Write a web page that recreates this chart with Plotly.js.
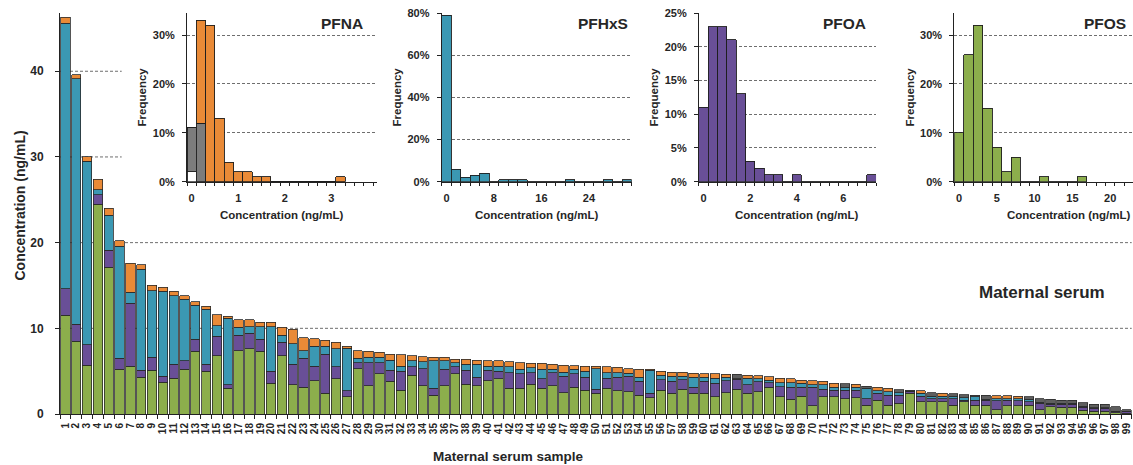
<!DOCTYPE html>
<html><head><meta charset="utf-8">
<script src="https://cdn.plot.ly/plotly-3.0.1.min.js"></script>
<style>html,body{margin:0;padding:0;overflow:hidden;background:#fff}#chart{width:1180px;height:465px}</style>
</head><body><div id="chart"></div>
<script>
// ---------- Main chart data (ng/mL) ----------
const samples = [1,2,3,4,5,6,7,8,9,10,11,12,13,14,15,16,17,18,19,20,21,22,23,24,25,26,27,28,29,30,31,32,33,34,35,36,37,38,39,40,41,42,43,44,45,46,47,48,49,50,51,52,53,54,55,56,57,58,59,60,61,62,63,64,65,66,67,68,69,70,71,72,73,74,75,76,77,78,79,80,81,82,83,84,85,86,87,88,89,90,91,92,93,94,95,96,97,98,99];
const pfos  = [11.5,8.5,5.7,24.5,17.1,5.2,5.6,4.3,5.1,3.7,4.2,5.2,7.3,5.0,6.8,3.0,7.4,7.6,7.3,3.6,6.8,3.4,3.1,3.9,2.4,4.1,2.0,5.3,3.3,4.7,3.8,2.8,4.5,3.3,2.2,3.3,4.7,3.5,3.3,3.9,4.1,3.0,3.0,3.5,3.0,3.3,2.5,3.1,2.8,2.4,3.0,2.7,2.6,2.2,1.9,2.8,2.4,2.9,2.4,2.4,2.0,2.5,2.9,2.4,2.6,3.1,2.0,1.7,2.1,0.95,2.0,2.0,1.8,1.9,1.05,1.6,1.05,1.25,2.4,1.45,1.45,1.45,1.05,1.45,1.05,1.05,0.5,0.95,0.95,1.05,0.5,0.85,0.8,0.8,0.45,0.3,0.3,0.15,0.1];
const pfoa  = [3.1,2.0,2.4,1.1,2.0,1.3,7.3,0.8,1.5,0.7,1.6,1.0,1.4,0.8,2.3,0.4,1.8,1.8,1.4,1.4,1.6,2.4,3.4,1.7,4.6,1.4,0.7,0.7,2.7,1.3,1.3,2.2,1.0,2.0,0.8,1.9,0.8,1.6,1.0,1.2,0.9,1.8,1.7,1.3,1.1,1.5,1.9,1.6,1.5,0.5,1.2,1.6,1.8,1.6,0.5,1.2,1.4,1.1,0.7,1.4,1.6,1.4,1.15,1.0,1.15,0.55,1.2,1.4,1.0,2.15,0.9,0.8,1.0,0.9,0.75,0.8,1.15,0.95,0.2,0.65,0.35,0.35,0.75,0.15,0.55,0.55,1.05,0.65,0.6,0.4,0.75,0.3,0.35,0.35,0.35,0.35,0.35,0.15,0.15];
const pfhxs = [31.0,28.6,21.4,0.6,4.1,13.1,1.3,11.8,7.8,9.9,8.0,7.2,4.0,6.4,1.2,7.8,0.9,0.8,1.5,5.2,0.8,2.4,0.9,2.3,0.9,2.1,5.0,0.5,0.6,0.6,1.2,0.6,0.7,0.8,3.2,1.0,0.5,0.7,1.5,0.5,0.6,0.7,0.5,0.6,1.1,0.4,0.5,0.5,0.7,2.4,0.6,0.5,0.35,0.5,2.7,0.5,0.6,0.4,1.2,0.5,0.6,0.4,0.05,0.75,0.35,0.3,0.45,0.55,0.5,0.3,0.5,0.3,0.3,0.35,1.2,0.3,0.4,0.3,0.05,0.3,0.3,0.3,0.3,0.3,0.4,0.15,0.25,0.2,0.25,0.25,0.1,0.1,0.1,0.1,0.1,0.1,0.1,0.05,0.05];
const pfna  = [0.7,0.5,0.5,1.2,0.8,0.6,3.4,0.5,0.6,0.5,0.5,0.4,0.4,0.4,1.3,0.2,0.9,0.8,0.5,0.5,0.9,1.7,1.5,0.9,0.7,0.8,0.2,0.9,0.7,0.6,0.7,1.3,0.6,0.6,0.4,0.4,0.4,0.6,0.5,0.6,0.6,0.6,0.8,0.5,0.7,0.6,0.8,0.45,0.6,0.25,0.7,0.65,0.55,0.95,0.1,0.5,0.5,0.45,0.45,0.4,0.5,0.35,0.55,0.4,0.35,0.4,0.5,0.45,0.35,0.5,0.45,0.5,0.45,0.35,0.25,0.4,0.4,0.35,0.15,0.3,0.4,0.35,0.25,0.35,0.2,0.45,0.35,0.35,0.3,0.3,0.45,0.45,0.35,0.35,0.4,0.4,0.4,0.5,0.2];
// samples whose PFNA value is below the limit of quantification (drawn grey)
const pfnaBelowLoq = [63,73,75,78,79,81,83,84,85,86,90,91,92,93,94,95,96,97,98,99];

// ---------- Inset histograms (frequency, %) ----------
const pfnaBins   = [0,0.2,0.4,0.6,0.8,1.0,1.2,1.4,1.6,1.8,2.0,2.2,2.4,2.6,2.8,3.0,3.2];
const pfnaNd     = [2,0,0,0,0,0,0,0,0,0,0,0,0,0,0,0,0];
const pfnaLoq    = [9,12,0,0,0,0,0,0,0,0,0,0,0,0,0,0,0];
const pfnaFreq   = [0,21,32,13,4,2,2,1,1,0,0,0,0,0,0,0,1];
const pfhxsBins  = [0,1.6,3.2,4.8,6.4,8.0,9.6,11.2,12.8,14.4,16.0,17.6,19.2,20.8,22.4,24.0,25.6,27.2,28.8,30.4];
const pfhxsFreq  = [79,6,2,3,4,0,1,1,1,0,0,0,0,1,0,0,0,1,0,1];
const pfoaBins   = [0,0.4,0.8,1.2,1.6,2.0,2.4,2.8,3.2,3.6,4.0,4.4,4.8,5.2,5.6,6.0,6.4,6.8,7.2];
const pfoaFreq   = [11,23,23,21,13,3,2,1,1,0,1,0,0,0,0,0,0,0,1];
const pfosBins   = [0,1.25,2.5,3.75,5,6.25,7.5,8.75,10,11.25,12.5,13.75,15,16.25];
const pfosFreq   = [10,26,32,15,7,2,5,0,0,1,0,0,0,1];

const C = {pfos:'#8CAE4C', pfoa:'#694F97', pfhxs:'#3B98B3', pfna:'#E98A37', grey:'#7c7c7c', dgrey:'#5f5f5f'};
const FONT = 'Liberation Sans, Arial, Helvetica, sans-serif';
const TXT = '#262626';
const outline = {color:'#2a2a2a', width:0.8};
const hOutline = {color:'#1e1e1e', width:0.9};

const traces = [
  {type:'bar', x:samples, y:pfos, name:'PFOS', marker:{color:C.pfos, line:outline}, width:0.86},
  {type:'bar', x:samples, y:pfoa, name:'PFOA', marker:{color:C.pfoa, line:outline}, width:0.86},
  {type:'bar', x:samples, y:pfhxs, name:'PFHxS', marker:{color:C.pfhxs, line:outline}, width:0.86},
  {type:'bar', x:samples, y:pfna, name:'PFNA', marker:{color:samples.map(s=>pfnaBelowLoq.includes(s)?C.dgrey:C.pfna), line:outline}, width:0.86},
  {type:'bar', x:pfnaBins, y:pfnaNd, xaxis:'x2', yaxis:'y2', width:0.2, marker:{color:'#ffffff', line:hOutline}},
  {type:'bar', x:pfnaBins, y:pfnaLoq, xaxis:'x2', yaxis:'y2', width:0.2, marker:{color:C.grey, line:hOutline}},
  {type:'bar', x:pfnaBins, y:pfnaFreq, xaxis:'x2', yaxis:'y2', width:0.2, marker:{color:C.pfna, line:hOutline}},
  {type:'bar', x:pfhxsBins, y:pfhxsFreq, xaxis:'x3', yaxis:'y3', width:1.6, marker:{color:C.pfhxs, line:hOutline}},
  {type:'bar', x:pfoaBins, y:pfoaFreq, xaxis:'x4', yaxis:'y4', width:0.4, marker:{color:C.pfoa, line:hOutline}},
  {type:'bar', x:pfosBins, y:pfosFreq, xaxis:'x5', yaxis:'y5', width:1.25, marker:{color:C.pfos, line:hOutline}}
];

const tickF = {family:FONT, size:11, color:TXT, weight:'bold'};
const titleF = {family:FONT, size:11.5, color:TXT, weight:'bold'};

function insetX(anchor, domain, range, vals, binW){
  return {domain:domain, anchor:anchor, range:range, tickmode:'array', tickvals:vals, ticktext:vals.map(String), ticks:'', ticklabelstandoff:6,
    showline:true, linecolor:'#222', linewidth:1, zeroline:false, showgrid:false, tickfont:tickF,
    minor:{tick0:range[0], dtick:binW, ticks:'outside', ticklen:3, tickcolor:'#222', tickwidth:1, showgrid:false}};
}
function insetY(anchor, range, vals){
  return {domain:[0.5793,1], anchor:anchor, range:range, tickmode:'array', tickvals:vals, ticktext:vals.map(v=>v+'%'),
    ticks:'outside', ticklen:4, tickcolor:'#222', ticklabelstandoff:5, showline:true, linecolor:'#222', linewidth:1, zeroline:false,
    showgrid:true, gridcolor:'#6e6e6e', griddash:'3px,2px', gridwidth:1, tickfont:tickF,
    title:{text:'Frequency', font:titleF, standoff:3}};
}

const grid = {color:'#6e6e6e', width:1, dash:'3px,2px'};
function ann(text, x, y, size, extra){
  return Object.assign({text:text, xref:'paper', yref:'paper', x:x, y:y, xanchor:'center', yanchor:'middle', showarrow:false,
    font:{family:FONT, size:size, color:TXT, weight:'bold'}}, extra||{});
}
const layout = {
  width:1180, height:465, barmode:'stack', showlegend:false,
  paper_bgcolor:'#ffffff', plot_bgcolor:'rgba(0,0,0,0)',
  margin:{l:60, r:0, t:13, b:51},
  font:{family:FONT, color:TXT},
  xaxis:{domain:[0,0.957], range:[0.5,99.5], tickmode:'array', tickvals:samples, ticktext:samples.map(String),
    tickangle:-90, ticks:'', ticklabelstandoff:4, tickfont:{family:FONT, size:10, color:TXT, weight:'bold'},
    showline:true, linecolor:'#222', linewidth:1, zeroline:false, showgrid:false,
    minor:{tick0:0.5, dtick:1, ticks:'outside', ticklen:4, tickcolor:'#222', tickwidth:1, showgrid:false}},
  yaxis:{domain:[0,1], range:[0,46.8], tickvals:[0,10,20,30,40], ticks:'outside', ticklen:4, tickcolor:'#222',
    ticklabelstandoff:9, showline:true, linecolor:'#222', linewidth:1, zeroline:false, showgrid:false,
    tickfont:{family:FONT, size:12, color:TXT, weight:'bold'}},
  xaxis2: insetX('y2', [0.1134,0.2830], [-0.1,3.98], [0,1,2,3], 0.2),
  yaxis2: insetY('x2', [0,34.5], [0,10,20,30]),
  xaxis3: insetX('y3', [0.3408,0.5104], [-0.8,31.2], [0,8,16,24], 1.6),
  yaxis3: insetY('x3', [0,80], [0,20,40,60,80]),
  xaxis4: insetX('y4', [0.5705,0.7286], [-0.2,7.4], [0,2,4,6], 0.4),
  yaxis4: insetY('x4', [0,25], [0,5,10,15,20,25]),
  xaxis5: insetX('y5', [0.7985,0.9964], [-0.625,28.7], [0,5,10,15,20], 1.25),
  yaxis5: insetY('x5', [0,34.5], [0,10,20,30]),
  shapes:[
    {type:'line', xref:'x', yref:'y', x0:0.5, x1:99.5, y0:10, y1:10, layer:'below', line:grid},
    {type:'line', xref:'x', yref:'y', x0:0.5, x1:99.5, y0:20, y1:20, layer:'below', line:grid},
    {type:'line', xref:'x', yref:'y', x0:0.5, x1:6.2, y0:30, y1:30, layer:'below', line:grid},
    {type:'line', xref:'x', yref:'y', x0:0.5, x1:6.2, y0:40, y1:40, layer:'below', line:grid}
  ],
  annotations:[
    ann('Maternal serum', 0.877, 0.304, 17),
    ann('Maternal serum sample', 0.40, -0.105, 13.5),
    ann('Concentration (ng/mL)', -0.0357, 0.52, 14, {textangle:-90}),
    ann('PFNA', 0.2723, 0.9726, 15.5, {xanchor:'right'}),
    ann('PFHxS', 0.5089, 0.9726, 15.5, {xanchor:'right'}),
    ann('PFOA', 0.7214, 0.9726, 15.5, {xanchor:'right'}),
    ann('PFOS', 0.9536, 0.9726, 15.5, {xanchor:'right'}),
    ann('Concentration (ng/mL)', 0.198, 0.496, 11.5),
    ann('Concentration (ng/mL)', 0.4256, 0.496, 11.5),
    ann('Concentration (ng/mL)', 0.658, 0.496, 11.5),
    ann('Concentration (ng/mL)', 0.9, 0.496, 11.5)
  ]
};

Plotly.newPlot('chart', traces, layout, {displayModeBar:false, staticPlot:true});
</script>
</body></html>
